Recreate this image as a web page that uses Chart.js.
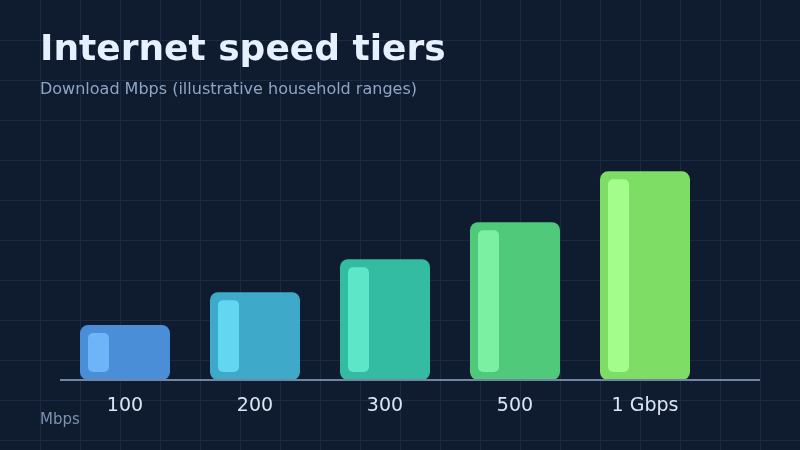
<!DOCTYPE html>
<html>
<head>
<meta charset="utf-8">
<script src="https://cdn.jsdelivr.net/npm/chart.js@4"></script>
<style>
  html, body { margin: 0; padding: 0; background: #0f1c30; }
  #wrap { width: 800px; height: 450px; }
</style>
</head>
<body>
<div id="wrap"><canvas id="chart" width="800" height="450"></canvas></div>
<script>
var tiers = ["100", "200", "300", "500", "1 Gbps"];
// relative bar heights (illustrative index)
var speedIndex = [55, 88, 121, 158, 209];
var barColors = ["#4a8ed8", "#3ea9c9", "#33bca2", "#50c97a", "#7ddd64"];
var shineColors = ["#6db4f9", "#63d6f2", "#5ee6c8", "#7cf0a2", "#a2fd8a"];

// background grid, 40px squares
var gridBg = {
    id: 'gridBg',
    beforeDraw: function (c) {
        var ctx = c.ctx;
        ctx.save();
        ctx.fillStyle = '#0f1c30';
        ctx.fillRect(0, 0, c.width, c.height);
        ctx.strokeStyle = '#1a2a43';
        ctx.lineWidth = 1;
        for (var x = 40; x < c.width; x += 40) {
            ctx.beginPath();
            ctx.moveTo(x + 0.5, 0);
            ctx.lineTo(x + 0.5, c.height);
            ctx.stroke();
        }
        for (var y = 40; y < c.height; y += 40) {
            ctx.beginPath();
            ctx.moveTo(0, y + 0.5);
            ctx.lineTo(c.width, y + 0.5);
            ctx.stroke();
        }
        ctx.restore();
    }
};

// light strip inside each bar + the baseline + unit label
var extras = {
    id: 'extras',
    afterDatasetsDraw: function (c) {
        var ctx = c.ctx;
        var meta = c.getDatasetMeta(0);
        ctx.save();
        meta.data.forEach(function (bar, i) {
            var left = bar.x - bar.width / 2;
            var top = bar.y + 8;
            var h = bar.base - 8 - top;
            ctx.fillStyle = shineColors[i];
            ctx.beginPath();
            ctx.roundRect(left + 8, top, 21, h, 5);
            ctx.fill();
        });
        var y0 = c.scales.y.getPixelForValue(0);
        ctx.strokeStyle = '#7286a3';
        ctx.lineWidth = 2;
        ctx.beginPath();
        ctx.moveTo(c.chartArea.left, y0);
        ctx.lineTo(c.chartArea.right + 50, y0);
        ctx.stroke();
        ctx.fillStyle = '#7d92b0';
        ctx.font = '15px "DejaVu Sans"';
        ctx.textBaseline = 'middle';
        ctx.fillText('Mbps', 40, 420);
        ctx.restore();
    }
};

var ctx = document.getElementById('chart');

var chart = new Chart(ctx, {
    type: 'bar',
    data: {
        labels: tiers,
        datasets: [{
            data: speedIndex,
            backgroundColor: barColors,
            borderWidth: 0,
            borderRadius: 8,
            borderSkipped: false,
            categoryPercentage: 1,
            barPercentage: 90 / 130
        }]
    },
    options: {
        responsive: false,
        animation: false,
        layout: { padding: { left: 40, right: 90, top: 29, bottom: 0 } },
        plugins: {
            legend: { display: false },
            tooltip: { enabled: false },
            title: {
                display: true,
                text: 'Internet speed tiers',
                align: 'start',
                color: '#e6f0ff',
                font: { family: 'DejaVu Sans', size: 36, weight: 'bold' },
                padding: { top: 0, bottom: 8 }
            },
            subtitle: {
                display: true,
                text: 'Download Mbps (illustrative household ranges)',
                align: 'start',
                color: '#8ea5c3',
                font: { family: 'DejaVu Sans', size: 16 },
                padding: { top: 0, bottom: 31 }
            }
        },
        scales: {
            x: {
                grid: { display: false, drawTicks: false },
                border: { display: false },
                ticks: {
                    color: '#dbe6f5',
                    font: { family: 'DejaVu Sans', size: 19 },
                    padding: 15
                },
                afterFit: function (s) { s.height = 70; }
            },
            y: {
                min: 0,
                max: 250,
                grid: { display: false, drawTicks: false },
                border: { display: false },
                ticks: { display: false },
                afterFit: function (s) { s.width = 20; }
            }
        }
    },
    plugins: [gridBg, extras]
});
</script>
</body>
</html>
